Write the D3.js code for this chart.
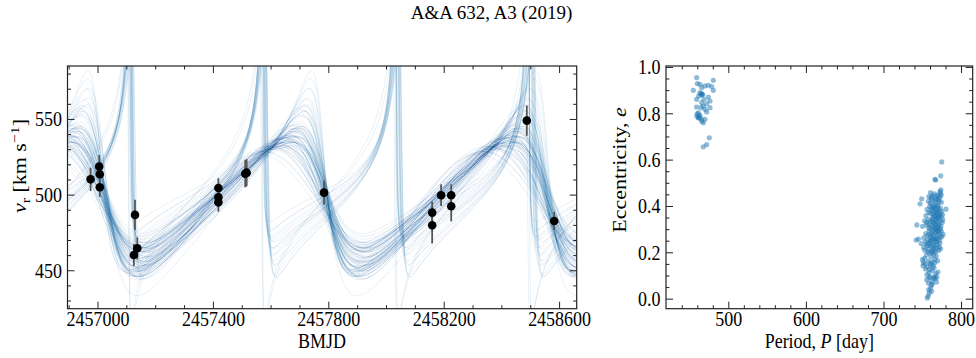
<!DOCTYPE html>
<html>
<head>
<meta charset="utf-8">
<script src="https://cdn.jsdelivr.net/npm/d3@7"></script>
<style>
  body { margin: 0; background: #fff; }
  svg text { font-family: "Liberation Serif", "Times New Roman", serif; font-size: 18px; fill: #000; }
</style>
</head>
<body>
<svg id="fig" width="976" height="358"></svg>
<script>
// ---- Radial-velocity measurements ----
const obsTime = [2456976, 2457006, 2457008, 2457008, 2457130, 2457126, 2457138,
  2457419, 2457419, 2457419, 2457517, 2457512, 2457785,
  2458160, 2458160, 2458191, 2458226, 2458226, 2458488, 2458583];
const obsVel = [510.1, 518.5, 513.5, 504.9, 486.6, 460.1, 464.5,
  504.4, 498.2, 494.9, 514.5, 513.8, 501.3,
  488.1, 479.7, 499.6, 499.6, 492.3, 548.9, 482.6];
const obsErr = [7.7, 7.7, 6.5, 6.5, 10, 7.3, 7.3,
  6.4, 6.4, 6.2, 9, 9, 8,
  7.3, 12, 7.2, 7.2, 10, 10, 6];

// ---- Orbit samples drawn over the data ----
// period [d], eccentricity, semi-amplitude K [km/s], argument of periastron [deg],
// time of periastron [BMJD], systemic velocity [km/s]
const orbitPeriod = [
  766, 761, 772, 764, 769, 758, 767, 775, 763, 770, 765, 760, 768, 773, 762, 766, 771, 757, 764, 769,
  776, 759, 765, 770, 763, 767, 761, 774, 765, 768, 756, 766, 771, 763, 767, 764, 770, 760, 768, 765,
  773, 759, 766, 769, 762, 775, 764, 767, 771, 763, 768, 758, 766, 770, 765, 762, 769, 764, 772, 761,
  767, 765, 770, 763, 768, 766, 760, 771, 764, 767, 762, 769, 758, 772, 766, 763, 770, 765, 761, 768,
  462, 460, 464, 461, 463, 459, 465, 462, 466, 460, 463, 461, 464, 458, 462, 467, 463, 461, 465, 460];
const orbitEcc = [
  0.29, 0.35, 0.22, 0.41, 0.14, 0.47, 0.26, 0.33, 0.19, 0.38, 0.31, 0.09, 0.44, 0.24, 0.36, 0.28, 0.52, 0.17, 0.27, 0.40,
  0.30, 0.06, 0.34, 0.21, 0.45, 0.32, 0.20, 0.56, 0.29, 0.37, 0.13, 0.25, 0.42, 0.30, 0.18, 0.36, 0.26, 0.46, 0.33, 0.04,
  0.29, 0.23, 0.39, 0.31, 0.27, 0.58, 0.16, 0.34, 0.24, 0.38, 0.29, 0.11, 0.32, 0.48, 0.21, 0.35, 0.27, 0.41, 0.30, 0.15,
  0.37, 0.25, 0.33, 0.53, 0.23, 0.31, 0.02, 0.36, 0.28, 0.42, 0.10, 0.26, 0.20, 0.44, 0.30, 0.39, 0.19, 0.34, 0.49, 0.22,
  0.85, 0.88, 0.82, 0.90, 0.86, 0.79, 0.84, 0.92, 0.81, 0.87, 0.83, 0.89, 0.80, 0.86, 0.76, 0.84, 0.87, 0.83, 0.78, 0.91];
const orbitK = [
  39, 46, 33, 52, 31, 57, 42, 36, 44, 40, 49, 35, 55, 30, 47, 37, 61, 38, 43, 41,
  34, 32, 50, 35, 53, 38, 40, 64, 45, 39, 36, 41, 48, 33, 42, 44, 36, 56, 46, 30,
  38, 47, 42, 51, 35, 66, 37, 40, 44, 48, 32, 39, 37, 58, 39, 45, 34, 50, 42, 33,
  47, 38, 43, 60, 36, 48, 31, 39, 44, 53, 34, 40, 37, 49, 29, 62, 46, 35, 59, 41,
  100, 112, 90, 125, 104, 82, 96, 135, 88, 108, 93, 118, 86, 100, 76, 94, 106, 98, 84, 122];
const orbitOmega = [
  88, 80, 97, 76, 104, 71, 92, 85, 99, 82, 87, 110, 74, 94, 84, 90, 68, 101, 89, 79,
  86, 112, 83, 96, 75, 86, 98, 66, 91, 81, 103, 93, 77, 88, 100, 82, 89, 73, 85, 115,
  87, 95, 79, 88, 91, 64, 102, 84, 94, 80, 87, 106, 86, 72, 97, 83, 90, 78, 89, 104,
  81, 92, 85, 69, 95, 87, 118, 82, 90, 77, 107, 91, 97, 74, 88, 80, 99, 84, 70, 96,
  45, 40, 52, 36, 48, 56, 43, 33, 54, 41, 49, 39, 59, 46, 64, 47, 78, 83, 60, 38];
const orbitTp = [
  2457790, 2457784, 2457796, 2457782, 2457799, 2457780, 2457788, 2457794, 2457786, 2457792,
  2457787, 2457801, 2457781, 2457797, 2457785, 2457791, 2457779, 2457798, 2457789, 2457786,
  2457793, 2457803, 2457786, 2457795, 2457782, 2457790, 2457794, 2457778, 2457788, 2457789,
  2457800, 2457792, 2457783, 2457793, 2457797, 2457787, 2457791, 2457781, 2457786, 2457804,
  2457791, 2457790, 2457785, 2457788, 2457793, 2457777, 2457798, 2457789, 2457790, 2457784,
  2457794, 2457799, 2457791, 2457780, 2457795, 2457786, 2457792, 2457783, 2457789, 2457800,
  2457785, 2457793, 2457788, 2457779, 2457794, 2457787, 2457805, 2457788, 2457789, 2457782,
  2457801, 2457791, 2457796, 2457783, 2457795, 2457784, 2457793, 2457790, 2457781, 2457792,
  2457578, 2457574, 2457583, 2457572, 2457580, 2457586, 2457576, 2457570, 2457584, 2457575,
  2457581, 2457573, 2457587, 2457579, 2457590, 2457577, 2457571, 2457568, 2457588, 2457574];
const orbitGamma = [
  497, 495, 499, 496, 500, 494, 493, 501, 492, 502, 494, 498, 497, 503, 493, 499, 497, 495, 496, 501,
  500, 497, 494, 498, 496, 500, 494, 498, 495, 502, 496, 497, 499, 501, 493, 498, 499, 495, 496, 499,
  500, 492, 500, 494, 500, 499, 497, 499, 494, 497, 502, 494, 501, 496, 496, 495, 501, 498, 496, 499,
  497, 498, 497, 499, 499, 493, 496, 501, 495, 498, 497, 498, 496, 500, 503, 491, 492, 502, 495, 497,
  505, 508, 501, 511, 504, 499, 506, 513, 500, 507, 503, 509, 498, 505, 496, 504, 503, 502, 497, 510];

// ---- Posterior samples: period and eccentricity ----
const samplePeriod = [
  459.2, 460.1, 463.5, 454.9, 465.7, 470.0, 474.3, 480.7, 478.6, 480.7, 463.5, 465.7, 467.0, 461.8,
  474.3, 476.4, 459.2, 468.7, 465.7, 472.1, 467.8, 459.2, 464.8, 470.0, 476.4, 472.1, 460.1, 459.2,
  463.5, 461.4, 465.7, 470.0, 465.7, 467.8, 461.4, 475.5, 472.1, 467.8, 464.8, 466.0, 462.0, 463.0,
  775.1, 773.8, 766.5, 767.2,
  773.2, 774.5, 772.8, 760.7, 765.5, 768.9, 770.6, 763.2, 774.0, 758.5,
  749.3, 747.2, 762.0, 765.8, 768.2, 771.5, 774.6, 760.4, 763.9, 766.7, 769.8, 773.1, 757.9, 761.5, 767.5, 770.9,
  780.6, 759.6, 761.8, 763.4, 765.1, 766.9, 768.4, 770.2, 771.8, 773.4, 775.0, 756.2, 758.3, 760.9,
  762.7, 764.6, 766.2, 767.9, 769.6, 771.2, 772.9, 774.3, 776.1, 754.8, 763.1, 765.7, 768.9, 770.7,
  743.0, 750.4, 753.1, 755.4, 757.6, 759.2, 760.8, 762.3, 763.8, 765.3, 766.6, 767.8, 769.1, 770.3, 771.6,
  772.8, 774.1, 775.7, 758.4, 761.6, 764.7, 767.2, 770.0, 773.3, 756.1, 762.9, 766.0, 768.5, 771.0, 776.4,
  742.1, 745.1, 752.0, 754.5, 756.8, 758.9, 760.5, 762.1, 763.6, 765.0, 766.4, 767.7, 769.0, 770.4, 771.7,
  773.0, 774.5, 776.8, 757.5, 761.3, 764.4, 767.1, 769.8, 772.4, 759.7, 763.0, 766.2, 768.6, 771.3, 775.2,
  748.6, 751.8, 754.0, 756.3, 758.1, 759.9, 761.7, 763.3, 764.9, 766.4, 767.9, 769.4, 770.9, 772.5,
  757.2, 760.6, 762.8, 765.6, 768.3, 771.8, 753.4, 755.7, 764.1, 767.3, 773.6, 758.8,
  750.2, 751.5, 752.9, 755.2, 757.7, 759.4, 761.2, 763.0, 764.7, 766.3, 768.0, 769.7, 760.4, 762.5, 753.8, 765.9,
  751.0, 754.2, 756.6, 758.6, 760.8, 762.9, 765.2, 767.6, 770.2, 756.0, 763.8, 759.5,
  755.7, 757.9, 760.2, 762.4, 764.6, 766.5, 768.3, 763.0, 758.9, 761.6, 765.8, 768.9,
  760.7, 762.0, 759.0, 757.5, 756.5, 758.2];
const sampleEcc = [
  0.954, 0.928, 0.925, 0.899, 0.911, 0.918, 0.921, 0.942, 0.915, 0.899, 0.889, 0.884, 0.881, 0.874,
  0.870, 0.853, 0.860, 0.860, 0.846, 0.841, 0.831, 0.827, 0.824, 0.817, 0.824, 0.806, 0.798, 0.788,
  0.791, 0.781, 0.774, 0.774, 0.766, 0.759, 0.802, 0.694, 0.665, 0.655, 0.884, 0.879, 0.780, 0.785,
  0.590, 0.530, 0.515, 0.512,
  0.455, 0.448, 0.462, 0.458, 0.452, 0.446, 0.441, 0.444, 0.470, 0.440,
  0.431, 0.409, 0.428, 0.425, 0.421, 0.418, 0.416, 0.412, 0.408, 0.404, 0.402, 0.436, 0.420, 0.437, 0.433, 0.427,
  0.386, 0.398, 0.392, 0.387, 0.395, 0.389, 0.384, 0.397, 0.381, 0.391, 0.376, 0.385, 0.372, 0.368,
  0.378, 0.365, 0.372, 0.361, 0.369, 0.357, 0.366, 0.354, 0.362, 0.358, 0.352, 0.356, 0.374, 0.351,
  0.318, 0.312, 0.336, 0.328, 0.341, 0.322, 0.335, 0.315, 0.344, 0.327, 0.339, 0.318, 0.331, 0.347, 0.323,
  0.337, 0.312, 0.329, 0.305, 0.302, 0.308, 0.303, 0.306, 0.301, 0.317, 0.332, 0.321, 0.344, 0.314, 0.341,
  0.253, 0.257, 0.262, 0.281, 0.272, 0.293, 0.268, 0.285, 0.276, 0.297, 0.262, 0.288, 0.271, 0.294, 0.279,
  0.265, 0.291, 0.277, 0.255, 0.252, 0.258, 0.254, 0.259, 0.251, 0.279, 0.262, 0.283, 0.298, 0.289, 0.268,
  0.238, 0.221, 0.245, 0.228, 0.214, 0.241, 0.226, 0.235, 0.211, 0.244, 0.219, 0.232, 0.208, 0.239,
  0.203, 0.249, 0.205, 0.229, 0.247, 0.222, 0.209, 0.236, 0.217, 0.202, 0.215, 0.231,
  0.168, 0.155, 0.174, 0.188, 0.162, 0.197, 0.181, 0.159, 0.192, 0.171, 0.184, 0.163, 0.152, 0.199, 0.149, 0.155,
  0.142, 0.128, 0.137, 0.112, 0.145, 0.121, 0.133, 0.108, 0.115, 0.104, 0.141, 0.126,
  0.082, 0.067, 0.094, 0.075, 0.088, 0.087, 0.072, 0.063, 0.091, 0.058, 0.095, 0.093,
  0.045, 0.032, 0.024, 0.011, 0.003, 0.038];

// ---- Tick values ----
const rvTimeTicks = [2457000, 2457400, 2457800, 2458200, 2458600];
const rvTimeMinor = [2456900, 2457100, 2457200, 2457300, 2457500, 2457600, 2457700,
  2457900, 2458000, 2458100, 2458300, 2458400, 2458500];
const rvVelTicks = [450, 500, 550];
const rvVelMinor = [430, 440, 460, 470, 480, 490, 510, 520, 530, 540, 560, 570, 580];
const periodTicks = [500, 600, 700, 800];
const periodMinor = [440, 460, 480, 520, 540, 560, 580, 620, 640, 660, 680, 720, 740, 760, 780];
const eccTicks = [0.0, 0.2, 0.4, 0.6, 0.8, 1.0];
const eccMinor = [0.05, 0.1, 0.15, 0.25, 0.3, 0.35, 0.45, 0.5, 0.55, 0.65, 0.7, 0.75, 0.85, 0.9, 0.95];

const svg = d3.select("#fig");
const BLUE = "#1f77b4";
const TALL = 1.22;   // glyphs of the axis text are drawn taller than wide

// panel frames
const pL = { x0: 67.5, x1: 576.7, y0: 66, y1: 308.7 };
const pR = { x0: 666, x1: 972.7, y0: 66, y1: 308.7 };

const xT = d3.scaleLinear().domain([2456896, 2458661]).range([pL.x0, pL.x1]);
const yV = d3.scaleLinear().domain([424.6, 585]).range([pL.y1, pL.y0]);
const xP = d3.scaleLinear().domain([419.7, 815]).range([pR.x0, pR.x1]);
const yE = d3.scaleLinear().domain([-0.0434, 1.004]).range([pR.y1, pR.y0]);

// title
svg.append("text").attr("x", 491.5).attr("y", 19).attr("text-anchor", "middle")
  .style("font-size", "19px").text("A&A 632, A3 (2019)");

// Keplerian radial velocity
function eccentricAnomaly(M, e) {
  let E = M + 0.85 * e * Math.sign(Math.sin(M) || 1);
  for (let i = 0; i < 60; i++) {
    const d = (E - e * Math.sin(E) - M) / (1 - e * Math.cos(E));
    E -= d;
    if (Math.abs(d) < 1e-11) break;
  }
  return E;
}
function radialVelocity(t, P, e, K, wDeg, tp, g) {
  let M = 2 * Math.PI * (t - tp) / P;
  M = M - 2 * Math.PI * Math.round(M / (2 * Math.PI));
  const E = eccentricAnomaly(M, e);
  const nu = 2 * Math.atan2(Math.sqrt(1 + e) * Math.sin(E / 2), Math.sqrt(1 - e) * Math.cos(E / 2));
  const w = wDeg * Math.PI / 180;
  return g + K * (Math.cos(nu + w) + e * Math.cos(w));
}

svg.append("defs").append("clipPath").attr("id", "clipL")
  .append("rect").attr("x", pL.x0).attr("y", pL.y0)
  .attr("width", pL.x1 - pL.x0).attr("height", pL.y1 - pL.y0);

const times = d3.range(xT.domain()[0], xT.domain()[1] + 0.5, 0.5);
const gCurves = svg.append("g").attr("clip-path", "url(#clipL)");
const line = d3.line().x(d => xT(d[0])).y(d => yV(d[1]));
orbitPeriod.forEach((P, i) => {
  const pts = times.map(t => [t, radialVelocity(t, P, orbitEcc[i], orbitK[i], orbitOmega[i], orbitTp[i], orbitGamma[i])]);
  gCurves.append("path").attr("d", line(pts))
    .attr("fill", "none").attr("stroke", BLUE).attr("stroke-width", 1).attr("stroke-opacity", 0.1);
});

// measurements with error bars
const gObs = svg.append("g");
obsTime.forEach((t, i) => {
  gObs.append("line").attr("x1", xT(t)).attr("x2", xT(t))
    .attr("y1", yV(obsVel[i] - obsErr[i])).attr("y2", yV(obsVel[i] + obsErr[i]))
    .attr("stroke", "#555").attr("stroke-width", 1.8);
});
obsTime.forEach((t, i) => {
  gObs.append("circle").attr("cx", xT(t)).attr("cy", yV(obsVel[i])).attr("r", 4.3).attr("fill", "#000");
});

// scatter of samples
svg.append("g").selectAll("circle").data(samplePeriod).join("circle")
  .attr("cx", d => xP(d)).attr("cy", (d, i) => yE(sampleEcc[i])).attr("r", 2.6)
  .attr("fill", BLUE).attr("fill-opacity", 0.5);

// axes with inward ticks on every side
function frame(p, xs, ys, xMaj, xMin, yMaj, yMin, xFmt, yFmt) {
  const add = (axis, tx, ty) => {
    const g = svg.append("g").attr("transform", `translate(${tx},${ty})`).call(axis);
    g.select(".domain").remove();
    g.selectAll("line").attr("stroke", "#222").attr("stroke-width", 1);
    return g;
  };
  const gb = add(d3.axisBottom(xs).tickValues(xMaj).tickSize(-7).tickFormat(xFmt), 0, p.y1);
  gb.selectAll("text").attr("y", 17.2 / TALL).attr("dy", 0).attr("transform", `scale(1,${TALL})`);
  add(d3.axisBottom(xs).tickValues(xMin).tickSize(-3.5).tickFormat(""), 0, p.y1);
  add(d3.axisTop(xs).tickValues(xMaj).tickSize(-7).tickFormat(""), 0, p.y0);
  add(d3.axisTop(xs).tickValues(xMin).tickSize(-3.5).tickFormat(""), 0, p.y0);
  const gl = add(d3.axisLeft(ys).tickValues(yMaj).tickSize(-7).tickPadding(5.5).tickFormat(yFmt), p.x0, 0);
  gl.selectAll("text").attr("transform", `scale(1,${TALL})`);
  add(d3.axisLeft(ys).tickValues(yMin).tickSize(-3.5).tickFormat(""), p.x0, 0);
  add(d3.axisRight(ys).tickValues(yMaj).tickSize(-7).tickFormat(""), p.x1, 0);
  add(d3.axisRight(ys).tickValues(yMin).tickSize(-3.5).tickFormat(""), p.x1, 0);
  svg.append("rect").attr("x", p.x0).attr("y", p.y0)
    .attr("width", p.x1 - p.x0).attr("height", p.y1 - p.y0)
    .attr("fill", "none").attr("stroke", "#222").attr("stroke-width", 1.2);
}
frame(pL, xT, yV, rvTimeTicks, rvTimeMinor, rvVelTicks, rvVelMinor, d3.format("d"), d3.format("d"));
frame(pR, xP, yE, periodTicks, periodMinor, eccTicks, eccMinor, d3.format("d"), d3.format(".1f"));

// axis titles
svg.append("text").attr("transform", `translate(${(pL.x0 + pL.x1) / 2},348) scale(1,${TALL})`)
  .attr("text-anchor", "middle").text("BMJD");
const pt = svg.append("text").attr("transform", `translate(${(pR.x0 + pR.x1) / 2},348) scale(1,${TALL})`)
  .attr("text-anchor", "middle");
pt.append("tspan").text("Period, ");
pt.append("tspan").attr("font-style", "italic").text("P");
pt.append("tspan").text(" [day]");

const vl = svg.append("text").attr("transform", `translate(26,166) rotate(-90) scale(${TALL},1)`)
  .attr("text-anchor", "middle");
vl.append("tspan").attr("font-style", "italic").text("v");
vl.append("tspan").attr("dy", 4).style("font-size", "13px").text("r");
vl.append("tspan").attr("dy", -4).text(" [km s");
vl.append("tspan").attr("dy", -7).style("font-size", "13px").text("\u22121");
vl.append("tspan").attr("dy", 7).text("]");

const el = svg.append("text").attr("transform", `translate(626,170) rotate(-90) scale(${TALL},1)`)
  .attr("text-anchor", "middle");
el.append("tspan").text("Eccentricity, ");
el.append("tspan").attr("font-style", "italic").text("e");
</script>
</body>
</html>
